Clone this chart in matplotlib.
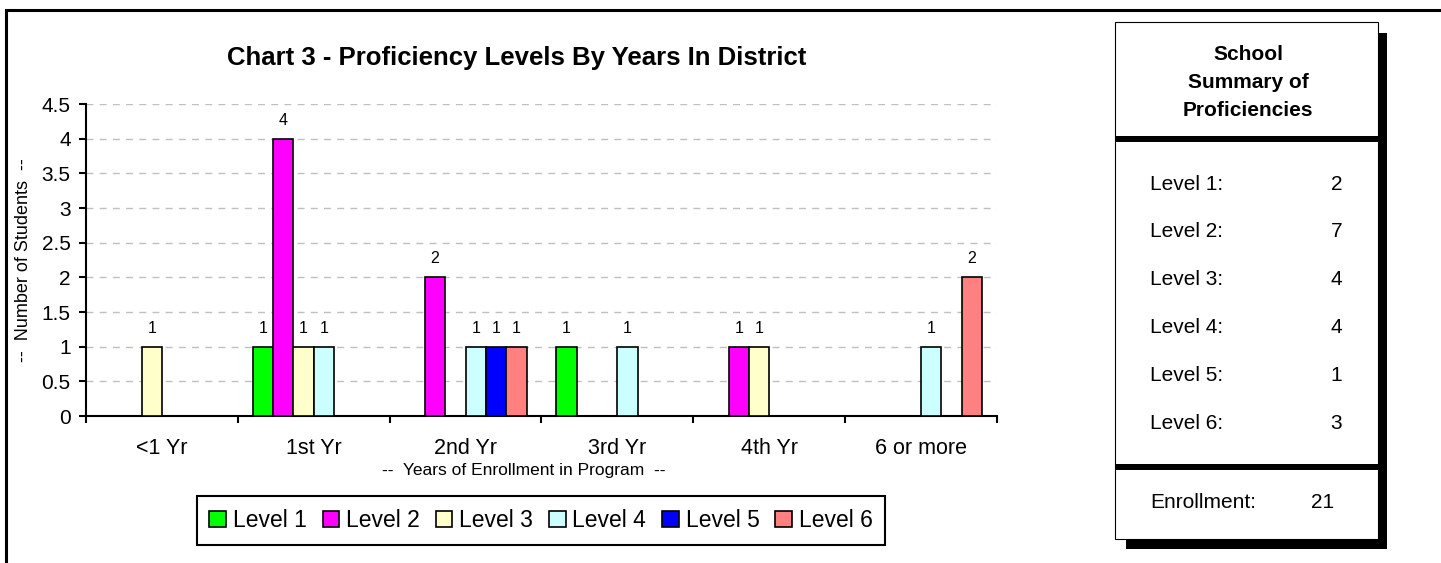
import numpy as np
import matplotlib
matplotlib.use('Agg')
import matplotlib.pyplot as plt
from matplotlib.patches import Rectangle
from matplotlib.ticker import FuncFormatter

plt.rcParams['font.family'] = ['Liberation Sans', 'DejaVu Sans']

# Students per proficiency level, by years of enrollment
years = ['<1 Yr', '1st Yr', '2nd Yr', '3rd Yr', '4th Yr', '6 or more']
level_names = ['Level 1', 'Level 2', 'Level 3', 'Level 4', 'Level 5', 'Level 6']
level_1 = [0, 1, 0, 1, 0, 0]
level_2 = [0, 4, 2, 0, 1, 0]
level_3 = [1, 1, 0, 0, 1, 0]
level_4 = [0, 1, 1, 1, 0, 1]
level_5 = [0, 0, 1, 0, 0, 0]
level_6 = [0, 0, 1, 0, 0, 2]
level_colors = ['#00FF00', '#FF00FF', '#FFFFCC', '#CCFFFF', '#0000FF', '#FF8080']

# school-wide summary
summary_totals = [2, 7, 4, 4, 1, 3]
enrollment = 21

levels = [level_1, level_2, level_3, level_4, level_5, level_6]

W, H = 1441, 563
fig = plt.figure(figsize=(W / 100, H / 100), dpi=100)


def fx(px):
    return px / W


def fy(py):
    return 1 - py / H


ax = fig.add_axes([fx(86), fy(416), (997 - 86) / W, (416 - 104) / H])

x = np.arange(len(years))
width = 0.134
handles = []
for i, (vals, color) in enumerate(zip(levels, level_colors)):
    vals = np.array(vals)
    keep = vals > 0
    bars = ax.bar(x[keep] + (i - 2.5) * width, vals[keep], width,
                  color=color, edgecolor='black', linewidth=1.2, zorder=3)
    ax.bar_label(bars, padding=8, fontsize=11.5)
    handles.append(bars)

ax.set_xlim(-0.5, len(years) - 0.5)
ax.set_ylim(0, 4.5)
ax.set_yticks(np.arange(0, 4.51, 0.5))
ax.yaxis.set_major_formatter(FuncFormatter(lambda v, p: '%g' % v))
ax.tick_params(axis='y', labelsize=15, length=5, width=1.5, pad=6)

ax.set_xticks(x)
ax.set_xticklabels(years)
ax.set_xticks(np.arange(-0.5, len(years)), minor=True)
ax.tick_params(axis='x', which='major', length=0, labelsize=15.5, pad=16)
ax.tick_params(axis='x', which='minor', length=5, width=1.5, direction='out')

ax.yaxis.grid(True, color='#C0C0C0', linestyle=(0, (5, 4.5)), linewidth=1)
ax.set_axisbelow(True)
for side in ['top', 'right']:
    ax.spines[side].set_visible(False)
for side in ['left', 'bottom']:
    ax.spines[side].set_linewidth(1.5)

fig.text(fx(517), fy(58), 'Chart 3 - Proficiency Levels By Years In District',
         ha='center', va='center', fontsize=18.5, fontweight='bold')
fig.text(fx(524), fy(470), '--  Years of Enrollment in Program  --',
         ha='center', va='center', fontsize=12.5)
fig.text(fx(24), fy(260), '--  Number of Students  --',
         ha='center', va='center', fontsize=13, rotation=90)

leg = fig.legend(handles, level_names, loc='center',
                 bbox_to_anchor=(fx(541), fy(520.5)), ncol=6, fontsize=16.5,
                 frameon=True, fancybox=False, edgecolor='black', framealpha=1,
                 handlelength=0.72, handleheight=0.72, handletextpad=0.3,
                 columnspacing=0.7, borderpad=0.55)
leg.get_frame().set_linewidth(1.5)

# page frame and the summary panel, drawn in pixel coordinates
ov = fig.add_axes([0, 0, 1, 1])
ov.set_xlim(0, W)
ov.set_ylim(H, 0)
ov.axis('off')
ov.plot([6, 6, W], [H, 9.5, 9.5], color='black', linewidth=2.2,
        solid_joinstyle='miter')

ov.add_patch(Rectangle((1126, 33), 261, 516, facecolor='black'))
ov.add_patch(Rectangle((1115, 22), 263, 517, facecolor='white',
                       edgecolor='black', linewidth=0.8))
ov.add_patch(Rectangle((1115, 136), 263, 6, facecolor='black'))
ov.add_patch(Rectangle((1115, 464), 263, 5.5, facecolor='black'))

ov.text(1248, 82, 'School\nSummary of\nProficiencies', ha='center',
        va='center', fontsize=15, fontweight='bold', linespacing=1.6)

row_y = 184
for name, total in zip(level_names, summary_totals):
    ov.text(1150, row_y, name + ':', ha='left', va='center', fontsize=15)
    ov.text(1342, row_y, str(total), ha='right', va='center', fontsize=15)
    row_y += 47.8
ov.text(1150, 503, 'Enrollment:', ha='left', va='center', fontsize=15)
ov.text(1334, 503, str(enrollment), ha='right', va='center', fontsize=15)

fig.savefig('out.png', dpi=100)
